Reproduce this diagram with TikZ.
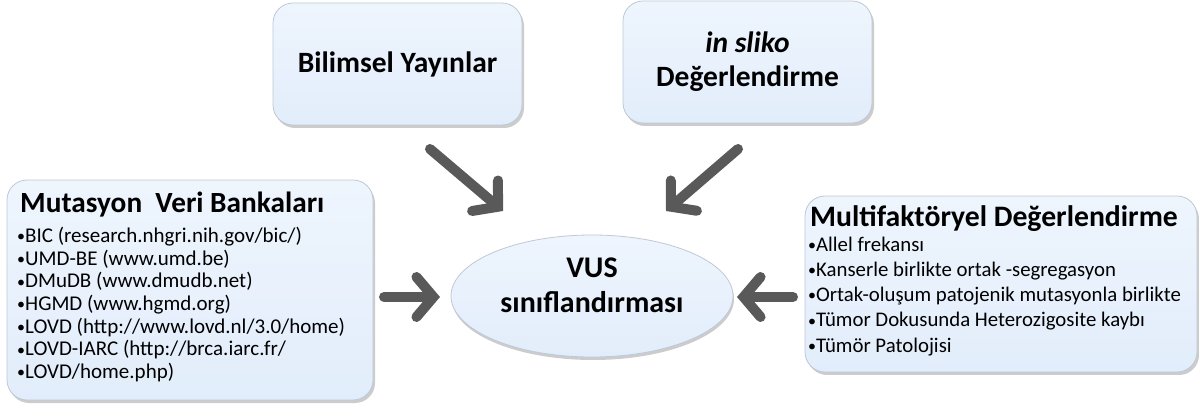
\documentclass[tikz,border=0pt]{standalone}
\usepackage{fontspec}
\setmainfont{Carlito}
\usetikzlibrary{shapes.geometric,arrows.meta,shadows}
\definecolor{boxfill}{RGB}{226,237,251}
\definecolor{boxtop}{RGB}{238,245,253}
\definecolor{boxline}{RGB}{190,200,214}
\definecolor{arrowgray}{RGB}{89,89,89}
\newcommand{\bul}{{\fontsize{16}{16}\selectfont\raisebox{0.1ex}{•}}}
\tikzset{
  card/.style={draw=boxline, line width=0.8pt, rounded corners=20pt, top color=boxtop, bottom color=boxfill,
    drop shadow={opacity=0.4, shadow xshift=2pt, shadow yshift=-3pt}, inner sep=0pt},
  oval/.style={ellipse, draw=boxline, line width=0.8pt, top color=boxtop, bottom color=boxfill,
    drop shadow={opacity=0.4, shadow xshift=1pt, shadow yshift=-3pt}, inner sep=0pt},
  listtext/.style={anchor=north west, align=left, inner sep=0pt},
  bigarrow/.style={draw=arrowgray, line width=10pt, line cap=round,
    -{Straight Barb[length=17pt,width=40pt,line cap=round]}},
}
\begin{document}
\begin{tikzpicture}[x=1pt,y=-1pt]
\useasboundingbox (0,0) rectangle (1199,411);
\node[card, minimum width=249pt, minimum height=122pt, font=\bfseries\fontsize{29.5}{34}\selectfont] (bil) at (397.5,64) {Bilimsel Yayınlar};
\node[card, minimum width=249pt, minimum height=122pt, align=center, font=\bfseries\fontsize{29.5}{34}\selectfont] (sil) at (747.5,62) {\textit{in sliko}\\Değerlendirme};
\node[card, minimum width=366pt, minimum height=220pt] (mut) at (190,290) {};
\node[listtext, font=\fontsize{21}{22.7}\selectfont] (muttxt) at (17,192)
 {\hspace*{3pt}{\bfseries\fontsize{29.3}{30}\selectfont Mutasyon\ \ Veri Bankaları}\\[7pt]
 \bul BIC (research.nhgri.nih.gov/bic/)\\
 \bul UMD-BE (www.umd.be)\\
 \bul DMuDB (www.dmudb.net)\\
 \bul HGMD (www.hgmd.org)\\
 \bul LOVD (http://www.lovd.nl/3.0/home)\\
 \bul LOVD-IARC (http://brca.iarc.fr/\\
 \bul LOVD/home.php)};
\node[card, minimum width=392pt, minimum height=176pt] (mul) at (1001,284) {};
\node[listtext, font=\fontsize{20.8}{25.2}\selectfont] (multxt) at (808,205)
 {\hspace*{2pt}{\bfseries\fontsize{29.7}{30}\selectfont Multifaktöryel Değerlendirme}\\
 \bul Allel frekansı\\
 \bul Kanserle birlikte ortak -segregasyon\\
 \bul Ortak-oluşum patojenik mutasyonla birlikte\\
 \bul Tümor Dokusunda Heterozigosite kaybı\\
 \bul Tümör Patolojisi};
\node[oval, minimum width=282pt, minimum height=122pt] (vus) at (592,296) {};
\node[align=center, font=\bfseries\fontsize{30}{35}\selectfont] (vustxt) at (592,285) {VUS\\sınıflandırması};
\coordinate (a1s) at (430,149);
\coordinate (a1e) at (503,211);
\coordinate (a2s) at (738,149);
\coordinate (a2e) at (666,211);
\coordinate (a3s) at (384,297);
\coordinate (a3e) at (440,297);
\coordinate (a4s) at (793,297);
\coordinate (a4e) at (737,297);
\draw[bigarrow] (a1s) -- (a1e);
\draw[bigarrow] (a2s) -- (a2e);
\draw[bigarrow] (a3s) -- (a3e);
\draw[bigarrow] (a4s) -- (a4e);
\end{tikzpicture}
\end{document}
